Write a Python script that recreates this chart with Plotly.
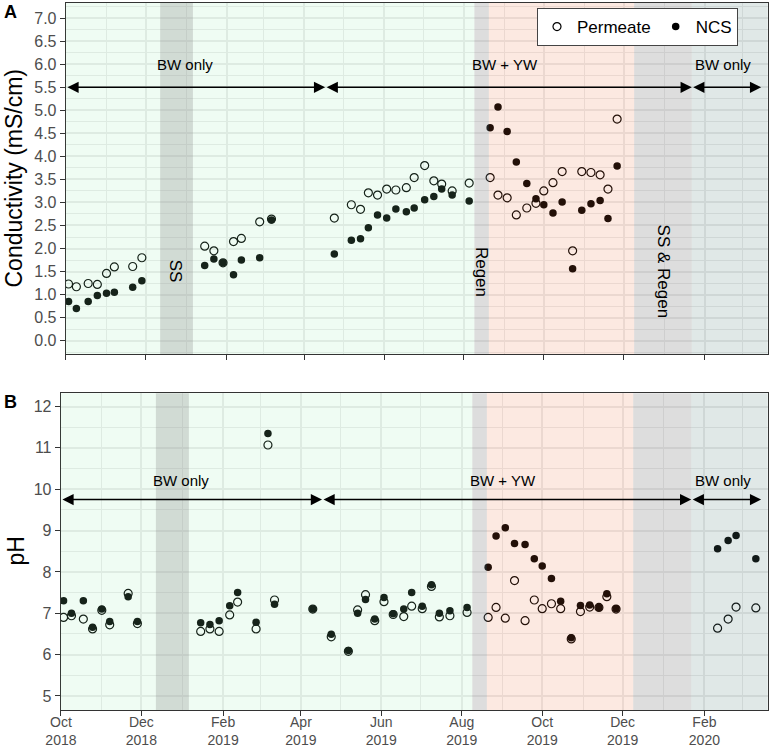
import plotly.graph_objects as go

# ---------------- data ----------------
dates_cond = ["2018-10-03", "2018-10-09", "2018-10-18", "2018-10-25", "2018-11-01", "2018-11-07",
              "2018-11-21", "2018-11-28", "2019-01-15", "2019-01-22", "2019-01-29", "2019-02-06",
              "2019-02-12", "2019-02-26", "2019-03-07", "2019-04-24", "2019-05-07", "2019-05-14",
              "2019-05-20", "2019-05-27", "2019-06-03", "2019-06-10", "2019-06-18", "2019-06-24",
              "2019-07-02", "2019-07-09", "2019-07-15", "2019-07-23", "2019-08-05", "2019-08-21",
              "2019-08-27", "2019-09-03", "2019-09-10", "2019-09-18", "2019-09-25", "2019-10-01",
              "2019-10-08", "2019-10-15", "2019-10-23", "2019-10-30", "2019-11-06", "2019-11-13",
              "2019-11-19", "2019-11-26"]
cond_permeate = [1.23, 1.17, 1.24, 1.22, 1.46, 1.60, 1.61, 1.80, 2.05, 1.95, 1.69, 2.15, 2.22, 2.58,
                 2.64, 2.66, 2.95, 2.85, 3.21, 3.16, 3.29, 3.27, 3.32, 3.54, 3.80, 3.47, 3.40, 3.25,
                 3.42, 3.54, 3.16, 3.10, 2.73, 2.88, 2.98, 3.25, 3.43, 3.67, 1.95, 3.67, 3.65, 3.60,
                 3.29, 4.81]
cond_ncs = [0.85, 0.70, 0.85, 0.98, 1.03, 1.05, 1.16, 1.30, 1.63, 1.77, 1.69, 1.43, 1.75, 1.80,
            2.62, 1.88, 2.18, 2.21, 2.45, 2.73, 2.66, 2.86, 2.80, 2.88, 3.06, 3.13, 3.29, 3.16,
            3.03, 4.62, 5.07, 4.54, 3.88, 3.41, 3.08, 2.95, 2.77, 3.01, 1.56, 2.83, 2.97, 3.04,
            2.65, 3.79]

dates_ph = ["2018-10-03", "2018-10-09", "2018-10-18", "2018-10-25", "2018-11-01", "2018-11-07",
            "2018-11-21", "2018-11-28", "2019-01-15", "2019-01-22", "2019-01-29", "2019-02-06",
            "2019-02-12", "2019-02-26", "2019-03-07", "2019-03-12", "2019-04-10", "2019-04-24",
            "2019-05-07", "2019-05-14", "2019-05-20", "2019-05-27", "2019-06-03", "2019-06-10",
            "2019-06-18", "2019-06-24", "2019-07-02", "2019-07-09", "2019-07-15", "2019-07-23",
            "2019-08-05", "2019-08-21", "2019-08-27", "2019-09-03", "2019-09-10", "2019-09-18",
            "2019-09-25", "2019-10-01", "2019-10-08", "2019-10-15", "2019-10-23", "2019-10-30",
            "2019-11-06", "2019-11-13", "2019-11-19", "2019-11-26", "2020-02-11", "2020-02-19",
            "2020-02-25", "2020-03-11"]
ph_permeate = [6.90, 6.94, 6.86, 6.62, 7.07, 6.72, 7.48, 6.75, 6.56, 6.62, 6.56, 6.96, 7.27, 6.62,
               11.07, 7.32, 7.10, 6.43, 6.08, 7.08, 7.45, 6.82, 7.28, 6.97, 6.92, 7.17, 7.11, 7.65,
               6.91, 6.94, 7.02, 6.90, 7.14, 6.88, 7.79, 6.82, 7.32, 7.11, 7.23, 7.11, 6.38, 7.04,
               7.15, 7.14, 7.40, 7.10, 6.64, 6.86, 7.15, 7.13]
ph_ncs = [7.30, 7.00, 7.30, 6.66, 7.10, 6.80, 7.40, 6.80, 6.77, 6.73, 6.82, 7.18, 7.50, 6.78,
          11.35, 7.22, 7.10, 6.49, 6.10, 7.00, 7.33, 6.86, 7.38, 6.99, 7.10, 7.50, 7.17, 7.69,
          7.00, 7.06, 7.14, 8.11, 8.87, 9.07, 8.69, 8.66, 8.32, 8.14, 7.84, 7.29, 6.41, 7.19,
          7.20, 7.14, 7.47, 7.11, 8.56, 8.76, 8.88, 8.32]

# shaded periods
period_start = ["2018-09-20", "2019-08-20", "2020-01-22", "2018-12-12", "2019-08-09", "2019-12-09"]
period_end = ["2019-08-09", "2019-12-09", "2020-03-30", "2019-01-06", "2019-08-20", "2020-01-22"]
period_fill = ["rgba(148,235,175,0.15)", "rgba(235,108,55,0.15)", "rgba(90,135,125,0.19)",
               "rgba(128,128,128,0.27)", "rgba(128,128,128,0.27)", "rgba(128,128,128,0.27)"]

# phase arrows and labels
phase_from = ["2018-10-01", "2019-04-17", "2020-01-22"]
phase_to = ["2019-04-17", "2020-01-22", "2020-03-15"]
phase_label = ["BW only", "BW + YW", "BW only"]
phase_label_x = ["2018-12-31", "2019-09-01", "2020-02-15"]

event_label = ["SS", "Regen", "SS &amp; Regen"]
event_x = ["2018-12-24", "2019-08-14 12:00", "2019-12-31"]

x_range = ["2018-09-30 20:00", "2020-03-20"]

FONT = "Liberation Sans, Arial, sans-serif"
W, H = 770, 750

fig = go.Figure()

for xa, ya, xs, perm, ncs, show in [("x", "y", dates_cond, cond_permeate, cond_ncs, True),
                                    ("x2", "y2", dates_ph, ph_permeate, ph_ncs, False)]:
    fig.add_trace(go.Scatter(x=xs, y=perm, mode="markers", name="Permeate", xaxis=xa, yaxis=ya,
                             showlegend=show, legendgroup="p",
                             marker=dict(symbol="circle-open", size=8, color="black",
                                         line=dict(width=1.2, color="black"))))
    fig.add_trace(go.Scatter(x=xs, y=ncs, mode="markers", name="NCS", xaxis=xa, yaxis=ya,
                             showlegend=show, legendgroup="n",
                             marker=dict(symbol="circle", size=7.5, color="black")))

shapes = []
for xr, yr in [("x", "y domain"), ("x2", "y2 domain")]:
    for s, e, c in zip(period_start, period_end, period_fill):
        shapes.append(dict(type="rect", xref=xr, yref=yr, x0=s, x1=e, y0=0, y1=1,
                           fillcolor=c, line=dict(width=0), layer="above"))

annotations = []
for xr, yr, arrow_y, label_y in [("x", "y", 5.5, 6.0), ("x2", "y2", 9.75, 10.2)]:
    for a, b in zip(phase_from, phase_to):
        annotations.append(dict(xref=xr, yref=yr, axref=xr, ayref=yr, x=b, y=arrow_y,
                                ax=a, ay=arrow_y, text="", showarrow=True, arrowside="end+start",
                                arrowhead=2, startarrowhead=2, arrowsize=1.4, startarrowsize=1.4,
                                arrowwidth=1.6, arrowcolor="black", standoff=0, startstandoff=0))
    for t, lx in zip(phase_label, phase_label_x):
        annotations.append(dict(xref=xr, yref=yr, x=lx, y=label_y, text=t, showarrow=False,
                                xanchor="center", yanchor="middle",
                                font=dict(family=FONT, size=15, color="black")))

for t, ex in zip(event_label, event_x):
    annotations.append(dict(xref="x", yref="y", x=ex, y=1.5, text=t, showarrow=False,
                            xanchor="center", yanchor="middle",
                            textangle=90, font=dict(family=FONT, size=17, color="black")))

# axis titles and panel tags
annotations += [
    dict(xref="paper", yref="paper", x=13 / W, y=1 - 178.5 / H, text="Conductivity (mS/cm)",
         xanchor="center", yanchor="middle",
         showarrow=False, textangle=-90, font=dict(family=FONT, size=23, color="black")),
    dict(xref="paper", yref="paper", x=16 / W, y=1 - 551.6 / H, text="pH",
         xanchor="center", yanchor="middle",
         showarrow=False, textangle=-90, font=dict(family=FONT, size=23, color="black")),
    dict(xref="paper", yref="paper", x=10 / W, y=1 - 12 / H, text="<b>A</b>",
         xanchor="center", yanchor="middle",
         showarrow=False, font=dict(family=FONT, size=18, color="black")),
    dict(xref="paper", yref="paper", x=10 / W, y=1 - 402 / H, text="<b>B</b>",
         xanchor="center", yanchor="middle",
         showarrow=False, font=dict(family=FONT, size=18, color="black")),
]

tickfont = dict(family=FONT, size=16, color="#4D4D4D")
common_x = dict(type="date", range=x_range, tick0="2018-10-01", dtick="M2", automargin=False,
                ticks="outside", ticklen=5, tickcolor="#333333", tickwidth=1,
                showline=True, linecolor="#333333", linewidth=1, mirror=True,
                showgrid=True, gridcolor="#EBEBEB", gridwidth=1.5, zeroline=False,
                minor=dict(dtick="M1", tick0="2018-10-01", showgrid=True, gridcolor="#EBEBEB",
                           gridwidth=0.8, ticks=""),
                tickfont=dict(family=FONT, size=14, color="#4D4D4D"))
common_y = dict(ticks="outside", ticklen=5, tickcolor="#333333", tickwidth=1, automargin=False,
                showline=True, linecolor="#333333", linewidth=1, mirror=True,
                showgrid=True, gridcolor="#EBEBEB", gridwidth=1.5, zeroline=False,
                tickfont=tickfont)

fig.update_layout(
    width=W, height=H,
    margin=dict(l=0, r=0, t=0, b=0, pad=0, autoexpand=False),
    paper_bgcolor="white", plot_bgcolor="white",
    font=dict(family=FONT),
    xaxis=dict(common_x, domain=[65.7 / W, 767.7 / W], anchor="y", showticklabels=False),
    yaxis=dict(common_y, domain=[1 - 354 / H, 1 - 3 / H], anchor="x", range=[-0.29, 7.33],
               tick0=0, dtick=0.5, tickformat=".1f",
               minor=dict(dtick=0.25, tick0=0, showgrid=True, gridcolor="#EBEBEB", gridwidth=0.8)),
    xaxis2=dict(common_x, domain=[60.7 / W, 767.7 / W], anchor="y2", tickformat="%b<br>%Y",
                ticklabelstandoff=-6),
    yaxis2=dict(common_y, domain=[1 - 710 / H, 1 - 393.3 / H], anchor="x2", range=[4.66, 12.32],
                tick0=0, dtick=1,
                minor=dict(dtick=0.5, tick0=0, showgrid=True, gridcolor="#EBEBEB", gridwidth=0.8)),
    shapes=shapes,
    annotations=annotations,
    legend=dict(orientation="h", x=537 / W, y=1 - 8 / H, xanchor="left", yanchor="top",
                bgcolor="white", bordercolor="#444444", borderwidth=1,
                font=dict(family=FONT, size=17, color="black")),
    showlegend=True,
)

fig.write_html("out.html", config={"displayModeBar": False},
               post_script="document.body.style.margin='0px';")
